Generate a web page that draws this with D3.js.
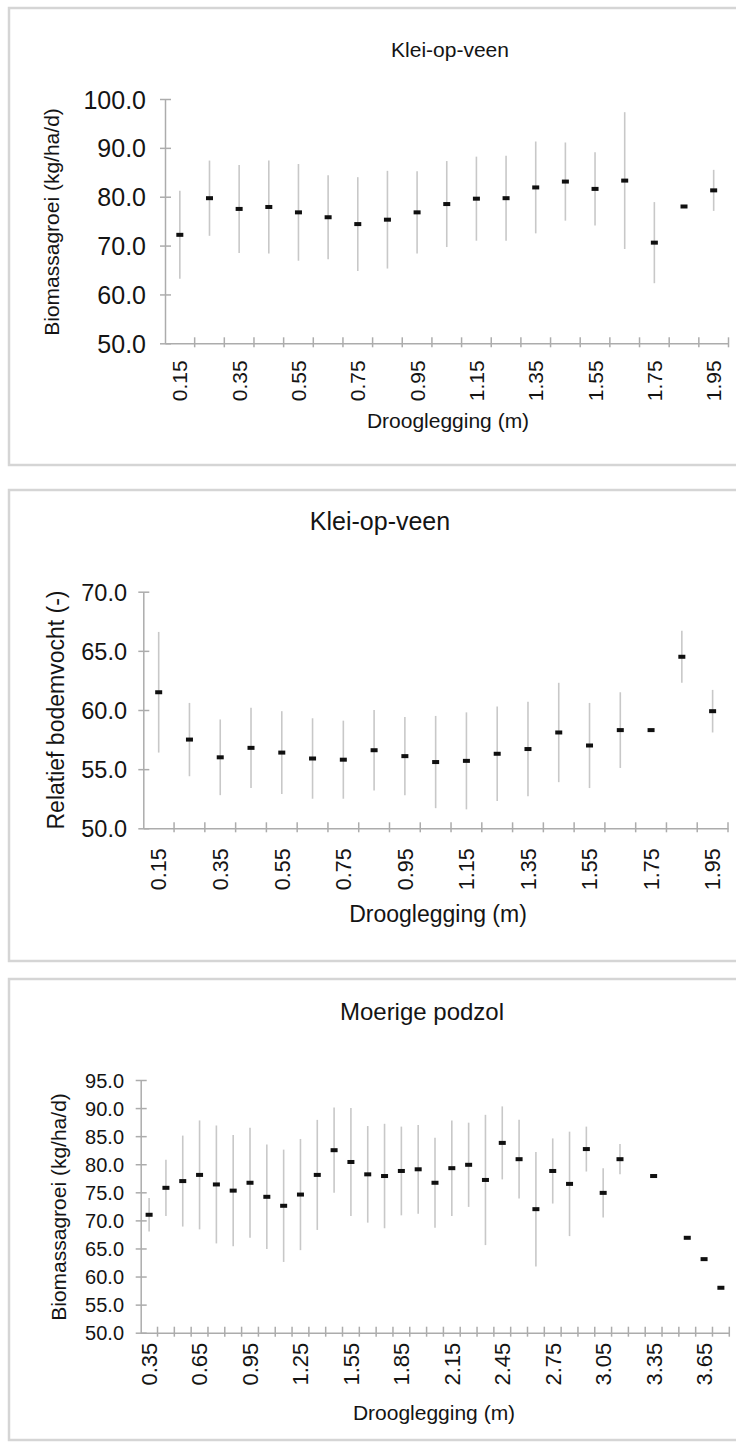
<!DOCTYPE html>
<html>
<head>
<meta charset="utf-8">
<script src="https://cdn.jsdelivr.net/npm/d3@7"></script>
<style>
  html, body { margin: 0; padding: 0; background: #fff; }
  svg { display: block; }
  text { font-family: "Liberation Sans", Arial, Helvetica, sans-serif; fill: #141414; }
</style>
</head>
<body>
<svg id="chart" width="736" height="1444"></svg>
<script>
// Klei-op-veen: drooglegging classes (m)
const kleiCats = ["0.15","0.25","0.35","0.45","0.55","0.65","0.75","0.85","0.95","1.05",
                  "1.15","1.25","1.35","1.45","1.55","1.65","1.75","1.85","1.95"];

// Biomassagroei (kg/ha/d): mean and standard deviation per class
const kleiBiomassMean = [72.2,79.7,77.5,77.9,76.8,75.8,74.4,75.3,76.8,78.5,
                         79.6,79.7,81.9,83.1,81.6,83.3,70.6,78.0,81.3];
const kleiBiomassSd   = [9.0,7.7,9.0,9.5,9.9,8.6,9.6,10.0,8.4,8.8,
                         8.6,8.7,9.4,8.0,7.5,14.0,8.3,0,4.2];

// Relatief bodemvocht (-): mean and standard deviation per class
const kleiVochtMean = [61.5,57.5,56.0,56.8,56.4,55.9,55.8,56.6,56.1,55.6,
                       55.7,56.3,56.7,58.1,57.0,58.3,58.3,64.5,59.9];
const kleiVochtSd   = [5.1,3.1,3.2,3.4,3.5,3.4,3.3,3.4,3.3,3.9,
                       4.1,4.0,4.0,4.2,3.6,3.2,0,2.2,1.8];

// Moerige podzol: drooglegging classes (m)
const podzolCats = ["0.35","0.45","0.55","0.65","0.75","0.85","0.95","1.05","1.15","1.25",
                    "1.35","1.45","1.55","1.65","1.75","1.85","1.95","2.05","2.15","2.25",
                    "2.35","2.45","2.55","2.65","2.75","2.85","2.95","3.05","3.15","3.25",
                    "3.35","3.45","3.55","3.65","3.75"];
// Biomassagroei (kg/ha/d); null = no observations in that class
const podzolBiomassMean = [71.0,75.8,77.0,78.1,76.4,75.3,76.7,74.2,72.6,74.6,
                           78.1,82.5,80.4,78.2,77.9,78.8,79.1,76.7,79.3,79.9,
                           77.2,83.8,80.9,72.0,78.8,76.5,82.7,74.9,80.9,null,
                           77.9,null,66.9,63.1,58.0];
const podzolBiomassSd   = [3.0,5.0,8.1,9.7,10.5,9.9,9.8,9.3,10.0,9.9,
                           9.8,7.6,9.6,8.6,9.3,7.9,7.9,8.0,8.5,7.5,
                           11.6,6.5,7.0,10.2,5.8,9.3,4.0,4.4,2.7,null,
                           0,null,0,0,0];

// Tick values
const kleiBiomassTicks = [50,60,70,80,90,100];
const kleiVochtTicks   = [50,55,60,65,70];
const podzolTicks      = [50,55,60,65,70,75,80,85,90,95];

const svg = d3.select("#chart");
svg.append("rect").attr("width", 736).attr("height", 1444).attr("fill", "#fff");

const AXIS = "#acacac", BAR = "#c8c8c8";
const fmt = d3.format(".1f");

function drawPanel(p) {
  const g = svg.append("g");

  // panel frame
  g.append("rect")
    .attr("x", p.frame[0]).attr("y", p.frame[1])
    .attr("width", p.frame[2]).attr("height", p.frame[3])
    .attr("fill", "none").attr("stroke", "#d5d5d5").attr("stroke-width", 2.5);

  const x = d3.scaleBand().domain(p.cats).range(p.xRange).paddingInner(0).paddingOuter(0);
  const y = d3.scaleLinear().domain([p.ticks[0], p.ticks[p.ticks.length - 1]]).range(p.yRange);
  const cx = c => x(c) + x.bandwidth() / 2;

  // title
  g.append("text").attr("x", p.titleX).attr("y", p.titleY)
    .attr("text-anchor", "middle").style("font-size", p.titleSize + "px").text(p.title);

  // y axis
  const yAxisG = g.append("g").attr("transform", `translate(${p.xRange[0]},0)`)
    .call(d3.axisLeft(y).tickValues(p.ticks).tickFormat(fmt).tickSizeOuter(0).tickSizeInner(5));
  yAxisG.select(".domain").attr("stroke", AXIS).attr("stroke-width", 1.5);
  yAxisG.selectAll(".tick line").attr("stroke", AXIS).attr("stroke-width", 1.5)
    .attr("x1", -5).attr("x2", 6);
  yAxisG.selectAll(".tick text")
    .attr("x", -(p.xRange[0] - p.yLabelRight)).attr("dy", "0.36em")
    .style("font-size", p.yLabelSize + "px").attr("fill", "#141414");

  // x axis with labels on every n-th class
  const axisY = p.yRange[0];
  const shown = p.cats.filter((c, i) => i % p.labelEvery === 0);
  const xAxisG = g.append("g").attr("transform", `translate(0,${axisY})`)
    .call(d3.axisBottom(x).tickValues(shown).tickSizeInner(0).tickSizeOuter(0));
  xAxisG.select(".domain").attr("stroke", AXIS).attr("stroke-width", 1.5);
  xAxisG.selectAll(".tick line").remove();
  xAxisG.selectAll(".tick text")
    .attr("transform", "rotate(-90)")
    .attr("x", -p.xLabelGap).attr("y", 0).attr("dy", "0.36em")
    .attr("text-anchor", "end")
    .style("font-size", p.xLabelSize + "px").attr("fill", "#141414");

  // tick marks on the class boundaries
  const bounds = p.cats.slice(1).map(c => x(c)).concat([x.range()[1]]);
  xAxisG.selectAll("line.bound").data(bounds).join("line")
    .attr("class", "bound")
    .attr("x1", d => d).attr("x2", d => d)
    .attr("y1", -6).attr("y2", 4)
    .attr("stroke", AXIS).attr("stroke-width", 1.5);

  // axis titles
  g.append("text")
    .attr("transform", `translate(${p.yTitleX},${p.yTitleY}) rotate(-90)`)
    .attr("text-anchor", "middle").style("font-size", p.yTitleSize + "px").text(p.yTitle);
  g.append("text").attr("x", p.xTitleX).attr("y", p.xTitleY)
    .attr("text-anchor", "middle").style("font-size", p.xTitleSize + "px").text("Drooglegging (m)");

  const rows = p.cats.map((c, i) => ({ c, m: p.mean[i], s: p.sd[i] }))
    .filter(d => d.m !== null);

  // standard deviation bars
  g.selectAll("line.err").data(rows.filter(d => d.s > 0)).join("line")
    .attr("class", "err")
    .attr("x1", d => cx(d.c)).attr("x2", d => cx(d.c))
    .attr("y1", d => y(d.m - d.s)).attr("y2", d => y(d.m + d.s))
    .attr("stroke", BAR).attr("stroke-width", 1.6);

  // mean markers
  g.selectAll("rect.pt").data(rows).join("rect")
    .attr("class", "pt")
    .attr("x", d => cx(d.c) - p.mk[0] / 2).attr("y", d => y(d.m) - p.mk[1] / 2)
    .attr("width", p.mk[0]).attr("height", p.mk[1])
    .attr("fill", "#101010");
}

drawPanel({
  frame: [9, 8, 760, 457],
  title: "Klei-op-veen", titleX: 450, titleY: 57, titleSize: 21,
  cats: kleiCats, mean: kleiBiomassMean, sd: kleiBiomassSd, ticks: kleiBiomassTicks,
  xRange: [165, 728.5], yRange: [343.3, 99],
  yLabelRight: 146, yLabelSize: 25,
  labelEvery: 2, xLabelGap: 17, xLabelSize: 21,
  yTitle: "Biomassagroei (kg/ha/d)", yTitleX: 59, yTitleY: 222, yTitleSize: 21,
  xTitleX: 448, xTitleY: 428, xTitleSize: 21,
  mk: [7, 4]
});

drawPanel({
  frame: [9, 490, 760, 471],
  title: "Klei-op-veen", titleX: 380, titleY: 530, titleSize: 25,
  cats: kleiCats, mean: kleiVochtMean, sd: kleiVochtSd, ticks: kleiVochtTicks,
  xRange: [143.3, 728], yRange: [828.3, 591.7],
  yLabelRight: 127, yLabelSize: 23.5,
  labelEvery: 2, xLabelGap: 20, xLabelSize: 21.5,
  yTitle: "Relatief bodemvocht (-)", yTitleX: 64, yTitleY: 710, yTitleSize: 23,
  xTitleX: 438, xTitleY: 922, xTitleSize: 23,
  mk: [7, 4]
});

drawPanel({
  frame: [9, 979, 760, 461],
  title: "Moerige podzol", titleX: 422, titleY: 1020, titleSize: 24,
  cats: podzolCats, mean: podzolBiomassMean, sd: podzolBiomassSd, ticks: podzolTicks,
  xRange: [140.7, 729.3], yRange: [1332.7, 1080],
  yLabelRight: 124, yLabelSize: 20,
  labelEvery: 3, xLabelGap: 10, xLabelSize: 22,
  yTitle: "Biomassagroei (kg/ha/d)", yTitleX: 66, yTitleY: 1207, yTitleSize: 21,
  xTitleX: 434, xTitleY: 1420, xTitleSize: 21,
  mk: [7, 4]
});
</script>
</body>
</html>
